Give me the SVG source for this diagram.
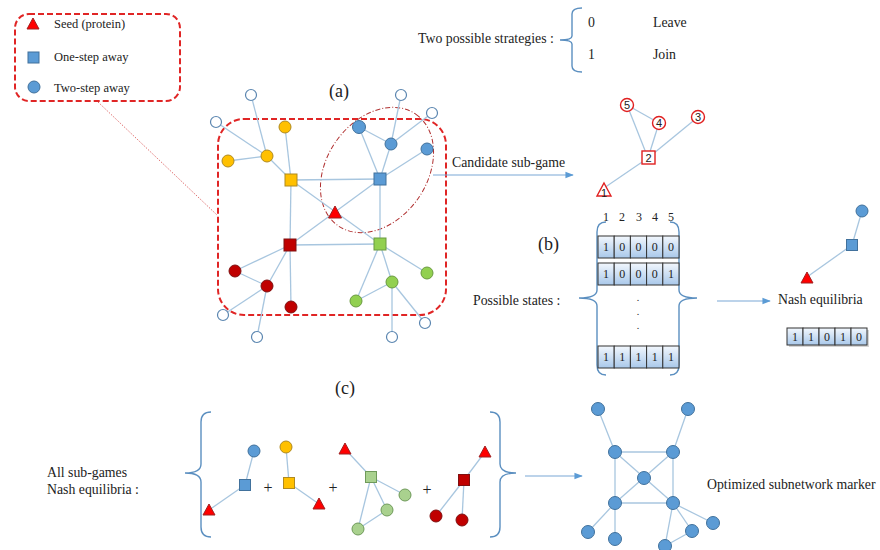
<svg xmlns="http://www.w3.org/2000/svg" width="880" height="550" viewBox="0 0 880 550" font-family="'Liberation Serif','Times New Roman',serif">
<style>
text{font-family:"Liberation Serif","Times New Roman",serif;fill:#222}
.lbl{font-size:13.8px}
.leg{font-size:12.5px}
.e{stroke:#a8c6df;stroke-width:1.3;fill:none}
.br{stroke:#5b8fc0;stroke-width:1.4;fill:none}
.blue{fill:#5b9bd5;stroke:#41719c;stroke-width:1}
.yel{fill:#ffc000;stroke:#b08a20;stroke-width:1}
.dred{fill:#c00000;stroke:#7f1010;stroke-width:1}
.grn{fill:#92d050;stroke:#6a9a40;stroke-width:1}
.lgrn{fill:#a9d18e;stroke:#6f9a5a;stroke-width:1}
.wht{fill:#fff;stroke:#5b86b0;stroke-width:1.2}
.tri{fill:#ff0000;stroke:#a02020;stroke-width:1}
.cand{fill:#fff;stroke:#e02020;stroke-width:1.4}
.num{font-family:"Liberation Sans",Arial,sans-serif;font-size:11px;text-anchor:middle}
.cell{fill:url(#cg);stroke:#333;stroke-width:1}
.cn{font-size:12px;text-anchor:middle}
.plus{font-size:16px;text-anchor:middle}
.dot{font-size:10px;text-anchor:middle}
.big{font-size:18px}
.reddash{fill:none;stroke:#e02525;stroke-width:2;stroke-dasharray:6,3}
</style>
<defs>
<linearGradient id="cg" x1="0" y1="0" x2="0" y2="1">
<stop offset="0" stop-color="#f2f7fd"/>
<stop offset="1" stop-color="#a9c8ea"/>
</linearGradient>
<marker id="ah" viewBox="0 0 10 10" refX="9" refY="5" markerWidth="7" markerHeight="7" orient="auto">
<path d="M0,1 L10,5 L0,9 Z" fill="#5b9bd5"/>
</marker>
</defs>
<rect width="880" height="550" fill="#fff"/>

<!-- Legend -->
<g id="legend">
<rect x="15" y="14" width="165" height="87" rx="14" class="reddash"/>
<path d="M27,29 L33,18 L39,29 Z" class="tri"/>
<text x="54" y="28" class="leg">Seed (protein)</text>
<rect x="28" y="52" width="11" height="11" class="blue"/>
<text x="54" y="61" class="leg">One-step away</text>
<circle cx="34" cy="87" r="6" class="blue"/>
<text x="54" y="92" class="leg">Two-step away</text>
</g>
<line x1="98" y1="102" x2="217" y2="215" stroke="#e07070" stroke-width="1" stroke-dasharray="1.5,1.5"/>

<!-- Strategies -->
<g id="strategies">
<text x="418" y="43" class="lbl">Two possible strategies :</text>
<path d="M582,8 Q572,8 572,14 L572,36 Q572,40 560,40 Q572,40 572,44 L572,66 Q572,72 582,72" class="br"/>
<text x="588" y="27" class="lbl">0</text>
<text x="653" y="27" class="lbl">Leave</text>
<text x="588" y="59" class="lbl">1</text>
<text x="653" y="59" class="lbl">Join</text>
</g>

<!-- (a) network -->
<text x="329" y="97" class="big">(a)</text>
<rect x="218" y="119" width="228" height="196" rx="26" class="reddash"/>
<ellipse cx="377" cy="170" rx="68" ry="50" transform="rotate(-55 377 170)" fill="none" stroke="#b03030" stroke-width="1" stroke-dasharray="5,2,1,2"/>
<g id="edges-a">
<line class="e" x1="291" y1="180" x2="285" y2="127"/>
<line class="e" x1="291" y1="180" x2="267" y2="156"/>
<line class="e" x1="267" y1="156" x2="228" y2="161"/>
<line class="e" x1="267" y1="156" x2="251" y2="95"/>
<line class="e" x1="267" y1="156" x2="216" y2="122"/>
<line class="e" x1="291" y1="180" x2="380" y2="179"/>
<line class="e" x1="291" y1="180" x2="290" y2="245"/>
<line class="e" x1="291" y1="180" x2="380" y2="244"/>
<line class="e" x1="290" y1="245" x2="380" y2="179"/>
<line class="e" x1="290" y1="245" x2="380" y2="244"/>
<line class="e" x1="380" y1="179" x2="380" y2="244"/>
<line class="e" x1="380" y1="179" x2="359" y2="127"/>
<line class="e" x1="380" y1="179" x2="391" y2="144"/>
<line class="e" x1="380" y1="179" x2="427" y2="149"/>
<line class="e" x1="359" y1="127" x2="391" y2="144"/>
<line class="e" x1="391" y1="144" x2="401" y2="95"/>
<line class="e" x1="391" y1="144" x2="432" y2="113"/>
<line class="e" x1="290" y1="245" x2="235" y2="271"/>
<line class="e" x1="290" y1="245" x2="267" y2="286"/>
<line class="e" x1="290" y1="245" x2="291" y2="307"/>
<line class="e" x1="235" y1="271" x2="267" y2="286"/>
<line class="e" x1="267" y1="286" x2="223" y2="315"/>
<line class="e" x1="267" y1="286" x2="257" y2="337"/>
<line class="e" x1="380" y1="244" x2="427" y2="273"/>
<line class="e" x1="380" y1="244" x2="392" y2="282"/>
<line class="e" x1="380" y1="244" x2="356" y2="301"/>
<line class="e" x1="392" y1="282" x2="356" y2="301"/>
<line class="e" x1="392" y1="282" x2="425" y2="323"/>
<line class="e" x1="392" y1="282" x2="392" y2="337"/>
</g>
<g id="a-yellow-sq"><rect x="285" y="174" width="12" height="12" class="yel"/></g>
<g id="a-blue-sq"><rect x="374" y="173" width="12" height="12" class="blue"/></g>
<g id="a-dred-sq"><rect x="284" y="239" width="12" height="12" class="dred"/></g>
<g id="a-green-sq"><rect x="374" y="238" width="12" height="12" class="grn"/></g>
<g id="a-seed"><path d="M335,206 L341.5,218 L328.5,218 Z" class="tri"/></g>
<g id="a-yel-c1"><circle cx="285" cy="127" r="6" class="yel"/></g>
<g id="a-yel-c2"><circle cx="267" cy="156" r="6" class="yel"/></g>
<g id="a-yel-c3"><circle cx="228" cy="161" r="6" class="yel"/></g>
<g id="a-w1"><circle cx="251" cy="95" r="5.5" class="wht"/></g>
<g id="a-w2"><circle cx="216" cy="122" r="5.5" class="wht"/></g>
<g id="a-blue-c1"><circle cx="359" cy="127" r="6.5" class="blue"/></g>
<g id="a-blue-c2"><circle cx="391" cy="144" r="6" class="blue"/></g>
<g id="a-blue-c3"><circle cx="427" cy="149" r="6" class="blue"/></g>
<g id="a-w3"><circle cx="401" cy="95" r="5.5" class="wht"/></g>
<g id="a-w4"><circle cx="432" cy="113" r="5.5" class="wht"/></g>
<g id="a-dred-c1"><circle cx="235" cy="271" r="6" class="dred"/></g>
<g id="a-dred-c2"><circle cx="267" cy="286" r="6" class="dred"/></g>
<g id="a-dred-c3"><circle cx="291" cy="307" r="6" class="dred"/></g>
<g id="a-w5"><circle cx="223" cy="315" r="5.5" class="wht"/></g>
<g id="a-w6"><circle cx="257" cy="337" r="5.5" class="wht"/></g>
<g id="a-grn-c1"><circle cx="427" cy="273" r="6" class="grn"/></g>
<g id="a-grn-c2"><circle cx="392" cy="282" r="6" class="grn"/></g>
<g id="a-grn-c3"><circle cx="356" cy="301" r="6" class="grn"/></g>
<g id="a-w7"><circle cx="425" cy="323" r="5.5" class="wht"/></g>
<g id="a-w8"><circle cx="392" cy="337" r="5.5" class="wht"/></g>

<!-- Candidate sub-game -->
<text x="452" y="167" class="lbl">Candidate sub-game</text>
<line x1="433" y1="175" x2="573" y2="175" stroke="#7aa8d6" stroke-width="1.2" marker-end="url(#ah)"/>
<g id="edges-cand">
<line class="e" x1="627" y1="105" x2="659" y2="123"/>
<line class="e" x1="627" y1="105" x2="648" y2="158"/>
<line class="e" x1="659" y1="123" x2="648" y2="158"/>
<line class="e" x1="698" y1="117" x2="648" y2="158"/>
<line class="e" x1="648" y1="158" x2="604" y2="188"/>
</g>
<g id="c5"><circle cx="627" cy="105" r="6.5" class="cand"/><text x="627" y="109" class="num">5</text></g>
<g id="c4"><circle cx="659" cy="123" r="6.5" class="cand"/><text x="659" y="127" class="num">4</text></g>
<g id="c3"><circle cx="698" cy="117" r="6.5" class="cand"/><text x="698" y="121" class="num">3</text></g>
<g id="c2"><rect x="642" y="151" width="13" height="13" class="cand"/><text x="648.5" y="161.5" class="num">2</text></g>
<g id="c1"><path d="M604,183 L611,196 L597,196 Z" class="cand"/><text x="604" y="197" class="num">1</text></g>

<!-- (b) -->
<text x="538" y="250" class="big">(b)</text>
<g id="colnums">
<text x="606" y="221" class="cn">1</text>
<text x="622" y="221" class="cn">2</text>
<text x="639" y="221" class="cn">3</text>
<text x="655" y="221" class="cn">4</text>
<text x="671" y="221" class="cn">5</text>
</g>
<text x="473" y="305" class="lbl">Possible states :</text>
<path d="M606,222 Q597,222 597,232 L597,290 Q597,298 579,298 Q597,298 597,306 L597,365 Q597,375 606,375" class="br"/>
<path d="M670,222 Q679,222 679,232 L679,290 Q679,298 697,298 Q679,298 679,306 L679,365 Q679,375 670,375" class="br"/>
<g id="state1">
<rect x="598" y="236" width="16.2" height="22" class="cell"/><rect x="614.2" y="236" width="16.2" height="22" class="cell"/><rect x="630.4" y="236" width="16.2" height="22" class="cell"/><rect x="646.6" y="236" width="16.2" height="22" class="cell"/><rect x="662.8" y="236" width="16.2" height="22" class="cell"/>
<text x="606.1" y="251" class="cn">1</text><text x="622.3" y="251" class="cn">0</text><text x="638.5" y="251" class="cn">0</text><text x="654.7" y="251" class="cn">0</text><text x="670.9" y="251" class="cn">0</text>
</g>
<g id="state2">
<rect x="598" y="263" width="16.2" height="22" class="cell"/><rect x="614.2" y="263" width="16.2" height="22" class="cell"/><rect x="630.4" y="263" width="16.2" height="22" class="cell"/><rect x="646.6" y="263" width="16.2" height="22" class="cell"/><rect x="662.8" y="263" width="16.2" height="22" class="cell"/>
<text x="606.1" y="278" class="cn">1</text><text x="622.3" y="278" class="cn">0</text><text x="638.5" y="278" class="cn">0</text><text x="654.7" y="278" class="cn">0</text><text x="670.9" y="278" class="cn">1</text>
</g>
<text x="638" y="301" class="dot">.</text>
<text x="638" y="315" class="dot">.</text>
<text x="638" y="329" class="dot">.</text>
<g id="state3">
<rect x="598" y="346" width="16.2" height="22" class="cell"/><rect x="614.2" y="346" width="16.2" height="22" class="cell"/><rect x="630.4" y="346" width="16.2" height="22" class="cell"/><rect x="646.6" y="346" width="16.2" height="22" class="cell"/><rect x="662.8" y="346" width="16.2" height="22" class="cell"/>
<text x="606.1" y="361" class="cn">1</text><text x="622.3" y="361" class="cn">1</text><text x="638.5" y="361" class="cn">1</text><text x="654.7" y="361" class="cn">1</text><text x="670.9" y="361" class="cn">1</text>
</g>
<line x1="717" y1="301" x2="770" y2="301" stroke="#7aa8d6" stroke-width="1.2" marker-end="url(#ah)"/>
<text x="778" y="304" class="lbl">Nash equilibria</text>
<g id="nash-state">
<rect x="789" y="330" width="80" height="17" fill="#aaa" opacity="0.5"/>
<rect x="787" y="328" width="16" height="17" class="cell"/><rect x="803" y="328" width="16" height="17" class="cell"/><rect x="819" y="328" width="16" height="17" class="cell"/><rect x="835" y="328" width="16" height="17" class="cell"/><rect x="851" y="328" width="16" height="17" class="cell"/>
<text x="795" y="341" class="cn">1</text><text x="811" y="341" class="cn">1</text><text x="827" y="341" class="cn">0</text><text x="843" y="341" class="cn">1</text><text x="859" y="341" class="cn">0</text>
</g>
<g id="edges-nash">
<line class="e" x1="862" y1="211" x2="852" y2="245"/>
<line class="e" x1="852" y1="245" x2="807" y2="277"/>
</g>
<g id="nash-c"><circle cx="862" cy="211" r="6" class="blue"/></g>
<g id="nash-sq"><rect x="846.5" y="239.5" width="11" height="11" class="blue"/></g>
<g id="nash-tri"><path d="M807,272 L813,283 L801,283 Z" class="tri"/></g>

<!-- (c) -->
<text x="335" y="394" class="big">(c)</text>
<text x="47" y="477" class="lbl">All sub-games</text>
<text x="47" y="494" class="lbl">Nash equilibria :</text>
<path d="M211,412 Q201,412 201,422 L201,464 Q201,473 185,473 Q201,473 201,482 L201,527 Q201,537 211,537" class="br"/>
<path d="M490,412 Q500,412 500,422 L500,464 Q500,473 516,473 Q500,473 500,482 L500,527 Q500,537 490,537" class="br"/>
<line x1="525" y1="476" x2="582" y2="476" stroke="#7aa8d6" stroke-width="1.2" marker-end="url(#ah)"/>
<g id="edges-c">
<line class="e" x1="254" y1="451" x2="245" y2="485"/>
<line class="e" x1="245" y1="485" x2="209" y2="510"/>
<line class="e" x1="286" y1="447" x2="289" y2="483"/>
<line class="e" x1="289" y1="483" x2="319" y2="504"/>
<line class="e" x1="345" y1="449" x2="371" y2="477"/>
<line class="e" x1="371" y1="477" x2="405" y2="495"/>
<line class="e" x1="371" y1="477" x2="387" y2="510"/>
<line class="e" x1="371" y1="477" x2="358" y2="529"/>
<line class="e" x1="387" y1="510" x2="358" y2="529"/>
<line class="e" x1="485" y1="452" x2="464" y2="480"/>
<line class="e" x1="464" y1="480" x2="436" y2="516"/>
<line class="e" x1="464" y1="480" x2="462" y2="520"/>
</g>
<g id="sg1-c"><circle cx="254" cy="451" r="6" class="blue"/></g>
<g id="sg1-sq"><rect x="239.5" y="479.5" width="11" height="11" class="blue"/></g>
<g id="sg1-tri"><path d="M209,504 L215,515 L203,515 Z" class="tri"/></g>
<text x="268" y="493" class="plus">+</text>
<g id="sg2-c"><circle cx="286" cy="447" r="6" class="yel"/></g>
<g id="sg2-sq"><rect x="283.5" y="477.5" width="11" height="11" class="yel"/></g>
<g id="sg2-tri"><path d="M319,498 L325,509 L313,509 Z" class="tri"/></g>
<text x="333" y="493" class="plus">+</text>
<g id="sg3-tri"><path d="M345,443 L351,454 L339,454 Z" class="tri"/></g>
<g id="sg3-sq"><rect x="365.5" y="471.5" width="11" height="11" class="lgrn"/></g>
<g id="sg3-c1"><circle cx="405" cy="495" r="6" class="lgrn"/></g>
<g id="sg3-c2"><circle cx="387" cy="510" r="6" class="lgrn"/></g>
<g id="sg3-c3"><circle cx="358" cy="529" r="6" class="lgrn"/></g>
<text x="427" y="495" class="plus">+</text>
<g id="sg4-tri"><path d="M485,446 L491,457 L479,457 Z" class="tri"/></g>
<g id="sg4-sq"><rect x="458.5" y="474.5" width="11" height="11" class="dred"/></g>
<g id="sg4-c1"><circle cx="436" cy="516" r="6" class="dred"/></g>
<g id="sg4-c2"><circle cx="462" cy="520" r="6" class="dred"/></g>

<!-- Optimized subnetwork -->
<g id="edges-opt">
<line class="e" x1="598" y1="409" x2="615" y2="452"/>
<line class="e" x1="688" y1="409" x2="673" y2="452"/>
<line class="e" x1="615" y1="452" x2="673" y2="452"/>
<line class="e" x1="615" y1="452" x2="615" y2="503"/>
<line class="e" x1="673" y1="452" x2="673" y2="503"/>
<line class="e" x1="615" y1="503" x2="673" y2="503"/>
<line class="e" x1="615" y1="452" x2="673" y2="503"/>
<line class="e" x1="673" y1="452" x2="615" y2="503"/>
<line class="e" x1="615" y1="503" x2="588" y2="532"/>
<line class="e" x1="615" y1="503" x2="615" y2="539"/>
<line class="e" x1="673" y1="503" x2="665" y2="546"/>
<line class="e" x1="673" y1="503" x2="692" y2="531"/>
<line class="e" x1="673" y1="503" x2="713" y2="523"/>
<line class="e" x1="665" y1="546" x2="692" y2="531"/>
</g>
<g id="o1"><circle cx="598" cy="409" r="6.5" class="blue"/></g>
<g id="o2"><circle cx="688" cy="409" r="6.5" class="blue"/></g>
<g id="o3"><circle cx="615" cy="452" r="6.5" class="blue"/></g>
<g id="o4"><circle cx="673" cy="452" r="6.5" class="blue"/></g>
<g id="o5"><circle cx="644" cy="478" r="6.5" class="blue"/></g>
<g id="o6"><circle cx="615" cy="503" r="6.5" class="blue"/></g>
<g id="o7"><circle cx="673" cy="503" r="6.5" class="blue"/></g>
<g id="o8"><circle cx="588" cy="532" r="6.5" class="blue"/></g>
<g id="o9"><circle cx="615" cy="539" r="6.5" class="blue"/></g>
<g id="o10"><circle cx="665" cy="546" r="6.5" class="blue"/></g>
<g id="o11"><circle cx="692" cy="531" r="6.5" class="blue"/></g>
<g id="o12"><circle cx="713" cy="523" r="6.5" class="blue"/></g>
<text x="707" y="489" class="lbl">Optimized subnetwork marker</text>
</svg>
